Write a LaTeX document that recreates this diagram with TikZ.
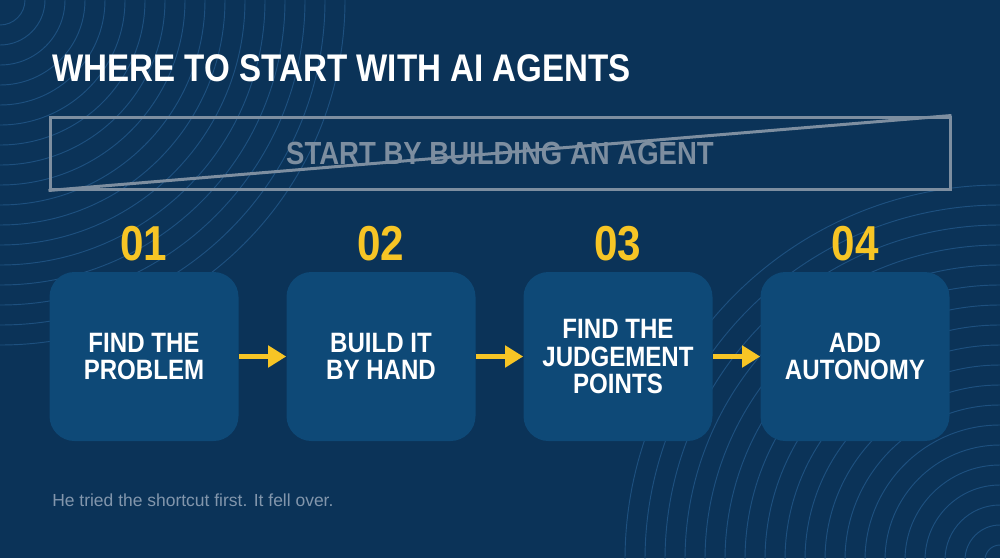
\documentclass[tikz,border=0pt]{standalone}
\usepackage{fontspec}
\setmainfont{Liberation Sans}
\newfontfamily\condfont{Liberation Sans}[FakeStretch=0.86]
\usetikzlibrary{arrows.meta}
\definecolor{bgc}{RGB}{11,51,88}
\definecolor{boxc}{RGB}{14,73,119}
\definecolor{arcc}{RGB}{45,105,160}
\definecolor{yel}{RGB}{247,197,37}
\definecolor{strikec}{RGB}{125,142,160}
\definecolor{footc}{RGB}{130,150,172}
\tikzset{
  arcline/.style={draw=arcc, line width=0.7pt, opacity=0.55},
  titletext/.style={anchor=base west, inner sep=0pt, text=white,
    font=\condfont\bfseries\fontsize{28.9pt}{34pt}\selectfont},
  numtext/.style={anchor=base, inner sep=0pt, text=yel,
    font=\condfont\bfseries\fontsize{36.8pt}{40pt}\selectfont},
  stepbox/.style={fill=boxc, rounded corners=18.75pt, minimum width=141.75pt,
    minimum height=126.75pt, inner sep=0pt, text=white, align=center,
    font=\condfont\bfseries\fontsize{21pt}{20.6pt}\selectfont},
  arr/.style={draw=yel, line width=3.75pt,
    -{Triangle[width=15.75pt,length=13.5pt]}},
  strikebox/.style={draw=strikec, line width=2.25pt, minimum width=675pt,
    minimum height=54pt, inner sep=0pt, text=strikec,
    font=\condfont\bfseries\fontsize{24pt}{28pt}\selectfont},
  foottext/.style={anchor=base west, inner sep=0pt, text=footc,
    font=\fontsize{13.1pt}{16pt}\selectfont}
}
\begin{document}
\begin{tikzpicture}[x=0.75pt,y=-0.75pt]
\fill[bgc] (0,0) rectangle (1000,558);
\useasboundingbox (0,0) rectangle (1000,558);
\begin{scope}
  \clip (0,0) rectangle (1000,558);
  \foreach \r in {25,45,...,345} \draw[arcline] (0,0) circle[radius=\r];
  \foreach \r in {15,35,...,375} \draw[arcline] (1000,560) circle[radius=\r];
\end{scope}

\node[titletext] (title) at (52,81.7) {WHERE TO START WITH AI AGENTS};

\node[strikebox] (strike) at (500,153) {START BY BUILDING AN AGENT};
\draw[strikec, line width=2.25pt] (strike.south west) -- (strike.north east);

\node[numtext] (n1) at (144,260) {01};
\node[numtext] (n2) at (381,260) {02};
\node[numtext] (n3) at (618,260) {03};
\node[numtext] (n4) at (855,260) {04};

\node[stepbox] (b1) at (144,356.5) {FIND THE\\PROBLEM};
\node[stepbox] (b2) at (381,356.5) {BUILD IT\\BY HAND};
\node[stepbox] (b3) at (618,356.5) {FIND THE\\JUDGEMENT\\POINTS};
\node[stepbox] (b4) at (855,356.5) {ADD\\AUTONOMY};

\draw[arr] (b1.east) -- (b2.west);
\draw[arr] (b2.east) -- (b3.west);
\draw[arr] (b3.east) -- (b4.west);

\node[foottext] (foot) at (52,506.5) {He tried the shortcut first. It fell over.};
\end{tikzpicture}
\end{document}
